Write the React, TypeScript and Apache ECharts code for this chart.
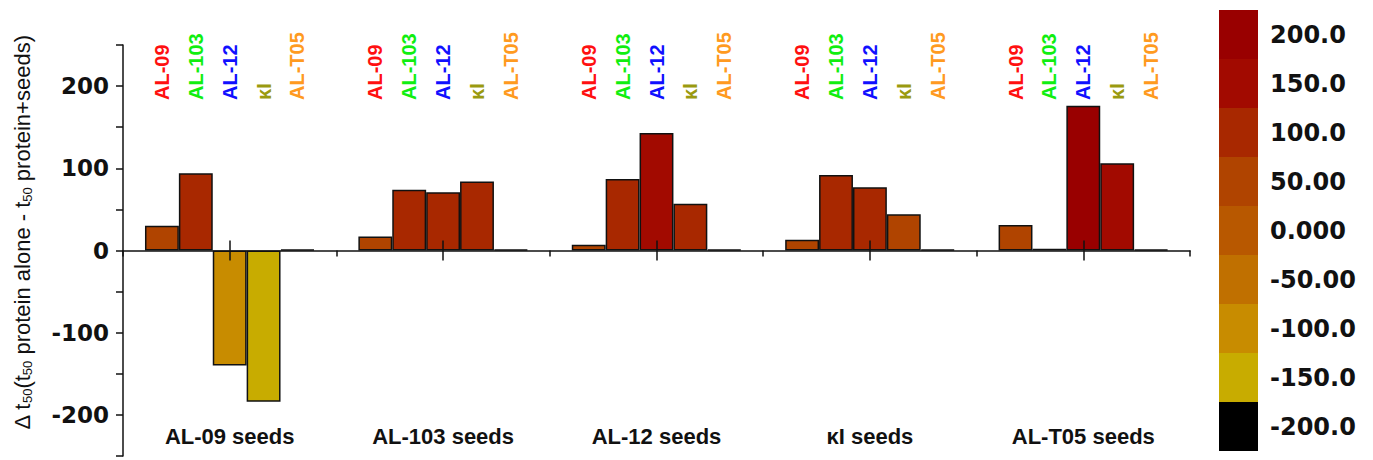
import React, { useEffect, useRef } from 'react';
import * as echarts from 'echarts';

// Seed groups (x categories)
const groups = ['AL-09 seeds', 'AL-103 seeds', 'AL-12 seeds', 'κI seeds', 'AL-T05 seeds'];
// Proteins (bars inside each group)
const proteins = ['AL-09', 'AL-103', 'AL-12', 'κI', 'AL-T05'];
const proteinLabelColors = ['#ff1010', '#10ee10', '#1010ff', '#9a9a10', '#ff9a20'];

// Δt50 values per protein, across the seed groups
const al09Values = [30, 17, 7, 13, 31];
const al103Values = [94, 74, 87, 92, 2];
const al12Values = [-140, 71, 143, 77, 176];
const kIValues = [-184, 84, 57, 44, 106];
const alT05Values = [1, 1, 1, 1, 1];
const seriesValues = [al09Values, al103Values, al12Values, kIValues, alT05Values];

// Colour scale
const colorLevels = [-250, -200, -150, -100, -50, 0, 50, 100, 150, 200];
const colorLabels = ['-200.0', '-150.0', '-100.0', '-50.00', '0.000', '50.00', '100.0', '150.0', '200.0'];
const colorSwatches = ['#000000', '#c8ac00', '#c88c00', '#c07000', '#b85800', '#b04400', '#a82800', '#a20a00', '#990000'];

// Y axis
const yMin = -250;
const yMax = 250;
const yTickStep = 50;
const yLabelStep = 100;

export default function App() {
  const ref = useRef<HTMLDivElement>(null);

  useEffect(() => {
    if (!ref.current) return;
    const chart = echarts.init(ref.current, null, { renderer: 'svg' });

    const pieces = colorLabels.map((label, i) => ({
      min: colorLevels[i],
      max: colorLevels[i + 1],
      label,
      color: colorSwatches[i],
    }));

    const dataSeries = seriesValues.map((vals, i) => ({
      name: proteins[i],
      type: 'bar',
      xAxisIndex: 0,
      yAxisIndex: 0,
      data: vals,
      barGap: '0%',
      barCategoryGap: '20.6%',
      itemStyle: { borderColor: '#111', borderWidth: 1.5 },
      silent: true,
      z: 2,
    }));

    const labelSeries = proteins.map((p, i) => ({
      name: p + ' label',
      type: 'bar',
      xAxisIndex: 3,
      yAxisIndex: 1,
      data: groups.map(() => 1),
      barGap: '0%',
      barCategoryGap: '20.6%',
      itemStyle: { color: 'rgba(0,0,0,0)' },
      silent: true,
      z: 1,
      label: {
        show: true,
        formatter: p,
        position: ['50%', 55],
        rotate: 90,
        align: 'left',
        verticalAlign: 'middle',
        color: proteinLabelColors[i],
        fontSize: 20,
        fontWeight: 'bold',
        fontFamily: 'Liberation Sans',
      },
    }));

    const hiddenCat = {
      type: 'category',
      data: groups,
      axisLabel: { show: false },
      splitLine: { show: false },
    };

    chart.setOption({
      animation: false,
      backgroundColor: '#ffffff',
      grid: { left: 123, right: 183, top: 45, bottom: 4, containLabel: false, outerBoundsMode: 'none' },
      visualMap: {
        type: 'piecewise',
        seriesIndex: [0, 1, 2, 3, 4],
        pieces,
        orient: 'vertical',
        left: 1219,
        top: 10,
        itemWidth: 39,
        itemHeight: 49,
        itemGap: 0,
        itemSymbol: 'rect',
        align: 'left',
        textGap: 12,
        hoverLink: false,
        selectedMode: false,
        padding: 0,
        textStyle: { fontSize: 24, fontWeight: 'bold', fontFamily: 'DejaVu Sans', color: '#111' },
      },
      xAxis: [
        {
          type: 'category',
          data: groups,
          z: 10,
          axisLine: { onZero: true, onZeroAxisIndex: 0, lineStyle: { color: '#111', width: 1.5 } },
          axisTick: { show: true, length: 6, lineStyle: { color: '#111', width: 1.5 } },
          axisLabel: { show: false },
          splitLine: { show: false },
        },
        {
          ...hiddenCat,
          z: 10,
          axisLine: { show: false, onZero: true, onZeroAxisIndex: 0 },
          axisTick: { show: true, alignWithLabel: true, inside: true, length: 10, lineStyle: { color: '#111', width: 1.5 } },
        },
        {
          ...hiddenCat,
          z: 10,
          axisLine: { show: false, onZero: true, onZeroAxisIndex: 0 },
          axisTick: { show: true, alignWithLabel: true, inside: false, length: 10, lineStyle: { color: '#111', width: 1.5 } },
        },
        {
          type: 'category',
          data: groups,
          position: 'bottom',
          axisLine: { show: false, onZero: false },
          axisTick: { show: false },
          splitLine: { show: false },
          axisLabel: {
            show: true,
            inside: true,
            margin: 9,
            color: '#111',
            fontSize: 22,
            fontWeight: 'bold',
            fontFamily: 'Liberation Sans',
          },
        },
      ],
      yAxis: [
        {
          type: 'value',
          min: yMin,
          max: yMax,
          interval: yTickStep,
          name: 'Δ t{s|50}(t{s|50} protein alone - t{s|50} protein+seeds)',
          nameLocation: 'middle',
          nameRotate: 90,
          nameGap: 89,
          nameTextStyle: {
            fontSize: 22,
            fontFamily: 'Liberation Sans',
            color: '#111',
            lineHeight: 24,
            padding: [0, 0, 0, 36],
            rich: {
              s: { fontSize: 13, fontFamily: 'Liberation Sans', color: '#111', verticalAlign: 'bottom', lineHeight: 13 },
            },
          },
          axisLine: { show: true, lineStyle: { color: '#111', width: 1.5 } },
          axisTick: { show: true, length: 7, lineStyle: { color: '#111', width: 1.5 } },
          axisLabel: {
            margin: 14,
            color: '#111',
            fontSize: 23,
            fontWeight: 'bold',
            fontFamily: 'DejaVu Sans',
            formatter: (v: number) => (v % yLabelStep === 0 && v > yMin && v < yMax ? String(v) : ''),
          },
          splitLine: { show: false },
        },
        {
          type: 'value',
          min: 0,
          max: 1,
          show: false,
          splitLine: { show: false },
        },
      ],
      series: [...dataSeries, ...labelSeries],
    });

    return () => chart.dispose();
  }, []);

  return (
    <div
      ref={ref}
      style={{ position: 'absolute', left: 0, top: 0, width: 1373, height: 460, background: '#fff' }}
    />
  );
}
